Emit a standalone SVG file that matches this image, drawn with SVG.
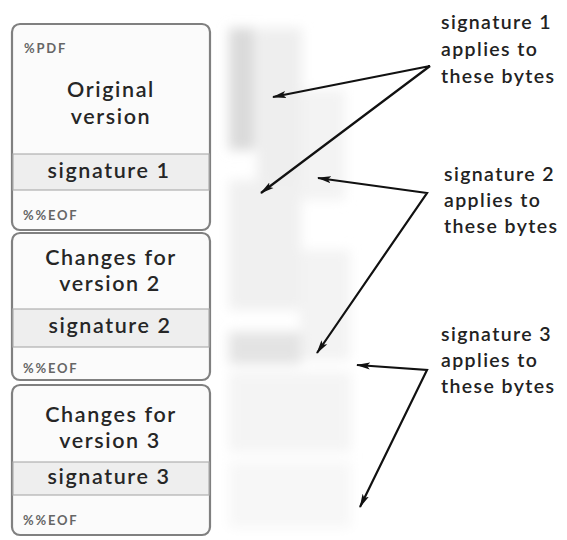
<svg xmlns="http://www.w3.org/2000/svg" width="567" height="540" viewBox="0 0 567 540">
  <defs>
    <filter id="soft" x="-20%" y="-20%" width="140%" height="140%">
      <feGaussianBlur stdDeviation="6"/>
    </filter>
    <marker id="head" viewBox="0 0 14 8" refX="13" refY="4" markerWidth="14" markerHeight="8" markerUnits="userSpaceOnUse" orient="auto-start-reverse">
      <path d="M0,0.5 L14,4 L0,7.5 L3,4 z" fill="#111"/>
    </marker>
    <style>
      .box { fill: #fbfbfb; stroke: #808080; stroke-width: 2.2; }
      .band { fill: #eeeeee; stroke: #b0b0b0; stroke-width: 1.2; }
      .title { font-family: Lato, "Open Sans", sans-serif; font-size: 21.5px; font-weight: 600; fill: #262626; text-anchor: middle; letter-spacing: 1.6px; }
      .tag { font-family: Lato, "Open Sans", sans-serif; font-size: 13px; font-weight: bold; fill: #666666; letter-spacing: 1.8px; }
      .note { font-family: Lato, "Open Sans", sans-serif; font-size: 19.5px; font-weight: 600; fill: #222222; letter-spacing: 1.4px; }
      .arrow { fill: none; stroke: #111; stroke-width: 2.2; stroke-linejoin: miter; }
    </style>
  </defs>

  <rect width="567" height="540" fill="#ffffff"/>

  <!-- byte ranges, softened -->
  <g id="byte-ranges" filter="url(#soft)">
    <rect x="257" y="28" width="45" height="170" fill="#eeeeee"/>
    <rect x="300" y="90" width="45" height="110" fill="#f3f3f3"/>
    <rect x="229" y="28" width="26" height="122" fill="#dadada"/>
    <rect x="229" y="180" width="72" height="130" fill="#f0f0f0"/>
    <rect x="300" y="250" width="50" height="110" fill="#f3f3f3"/>
    <rect x="229" y="332" width="72" height="32" fill="#e3e3e3"/>
    <rect x="229" y="372" width="122" height="80" fill="#f4f4f4"/>
    <rect x="229" y="462" width="122" height="66" fill="#f7f7f7"/>
  </g>

  <!-- original version -->
  <g id="block-original">
    <rect class="box" x="12" y="24" width="198" height="206" rx="8"/>
    <rect class="band" x="13" y="154" width="196" height="36"/>
    <text class="tag" x="24" y="53">%PDF</text>
    <text class="title" x="111" y="97">Original</text>
    <text class="title" x="111" y="124">version</text>
    <text class="title" x="109" y="178">signature 1</text>
    <text class="tag" x="23" y="220">%%EOF</text>
  </g>

  <!-- incremental update 2 -->
  <g id="block-update2">
    <rect class="box" x="12" y="233" width="198" height="147" rx="8"/>
    <rect class="band" x="13" y="309" width="196" height="38"/>
    <text class="title" x="111" y="265">Changes for</text>
    <text class="title" x="110" y="291">version 2</text>
    <text class="title" x="110" y="333">signature 2</text>
    <text class="tag" x="23" y="373">%%EOF</text>
  </g>

  <!-- incremental update 3 -->
  <g id="block-update3">
    <rect class="box" x="12" y="385" width="198" height="150" rx="8"/>
    <rect class="band" x="13" y="462" width="196" height="33"/>
    <text class="title" x="111" y="422">Changes for</text>
    <text class="title" x="110" y="448">version 3</text>
    <text class="title" x="109" y="484">signature 3</text>
    <text class="tag" x="23" y="525">%%EOF</text>
  </g>

  <!-- labels -->
  <g id="label-sig1">
    <text class="note" x="441" y="29">signature 1</text>
    <text class="note" x="441" y="56">applies to</text>
    <text class="note" x="441" y="83">these bytes</text>
  </g>
  <g id="label-sig2">
    <text class="note" x="444" y="181">signature 2</text>
    <text class="note" x="444" y="207">applies to</text>
    <text class="note" x="444" y="233">these bytes</text>
  </g>
  <g id="label-sig3">
    <text class="note" x="441" y="341">signature 3</text>
    <text class="note" x="441" y="367">applies to</text>
    <text class="note" x="441" y="393">these bytes</text>
  </g>

  <!-- connectors -->
  <g id="connectors">
    <polyline class="arrow" points="273,97 430,66 261,193" marker-start="url(#head)" marker-end="url(#head)"/>
    <polyline class="arrow" points="318,178 427,193 317,353" marker-start="url(#head)" marker-end="url(#head)"/>
    <polyline class="arrow" points="357,365 427,370 360,507" marker-start="url(#head)" marker-end="url(#head)"/>
  </g>
</svg>
